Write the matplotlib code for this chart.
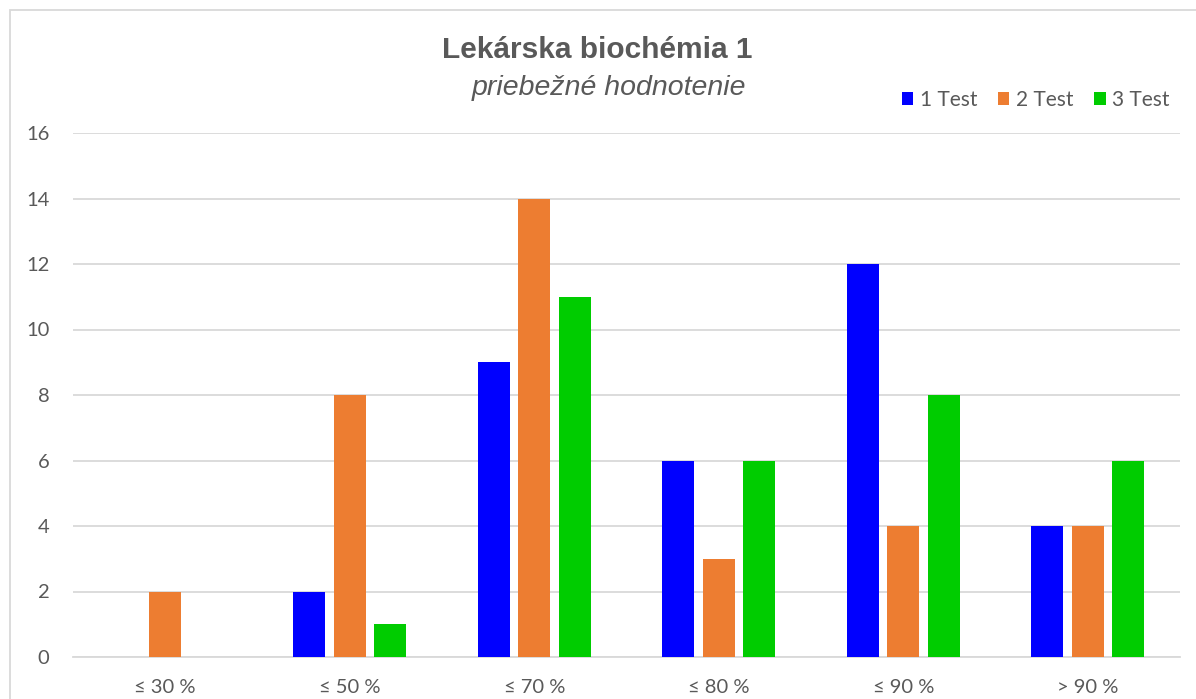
import matplotlib.pyplot as plt
import matplotlib.patches as patches
import numpy as np

# data
categories = ['≤ 30 %', '≤ 50 %', '≤ 70 %', '≤ 80 %', '≤ 90 %', '> 90 %']
series_names = ['1 Test', '2 Test', '3 Test']
test1 = [0, 2, 9, 6, 12, 4]
test2 = [2, 8, 14, 3, 4, 4]
test3 = [0, 1, 11, 6, 8, 6]
colors = ['#0000FF', '#ED7D31', '#00CC00']

W, H = 1196, 699
fig = plt.figure(figsize=(W / 100, H / 100), dpi=100)
# plot area in pixels: x 73..1180, y 133..657
ax = fig.add_axes([73 / W, 1 - 657 / H, (1180 - 73) / W, (657 - 133) / H])

text_col = '#595959'
grid_col = '#D9D9D9'
tick_font = 'Lato'

x = np.arange(len(categories))
bar_w = 32 / 184.5
step = 40.5 / 184.5
for i, (vals, name) in enumerate(zip([test1, test2, test3], series_names)):
    ax.bar(x + (i - 1) * step, vals, width=bar_w, color=colors[i],
           label=name, zorder=3)

ax.set_xlim(-0.5, len(categories) - 0.5)
ax.set_ylim(0, 16)
ax.set_yticks(range(0, 17, 2))
ax.set_xticks(x)
ax.set_xticklabels(categories)

ax.grid(axis='y', color=grid_col, linewidth=1.3, zorder=0)
for s in ['top', 'right', 'left']:
    ax.spines[s].set_visible(False)
ax.spines['bottom'].set_color(grid_col)
ax.spines['bottom'].set_linewidth(1.3)
ax.tick_params(axis='both', length=0, colors=text_col, labelsize=14.5)
ax.tick_params(axis='y', pad=17)
ax.tick_params(axis='x', pad=16)
for lab in ax.get_xticklabels() + ax.get_yticklabels():
    lab.set_family([tick_font, 'DejaVu Sans'])

# chart frame
fig.patches.append(patches.Rectangle((10 / W, -0.05), 1.1, 1 - 10 / H + 0.05,
                                     transform=fig.transFigure, fill=False,
                                     edgecolor=grid_col, linewidth=1.3))

fig.text(597 / W, 1 - 50 / H, 'Lekárska biochémia 1', ha='center', va='center',
         fontsize=21.5, fontweight='bold', color=text_col, family='Liberation Sans')
fig.text(609 / W, 1 - 88 / H, 'priebežné hodnotenie', ha='center', va='center',
         fontsize=20.5, style='italic', color=text_col, family='Liberation Sans')

leg = fig.legend(loc='center right', bbox_to_anchor=(1188 / W, 1 - 100 / H),
                 ncol=3, frameon=False, handlelength=0.55, handleheight=0.55,
                 handletextpad=0.3, columnspacing=1.0,
                 prop={'family': tick_font, 'size': 15})
for t in leg.get_texts():
    t.set_color(text_col)

fig.savefig('out.png', dpi=100)
